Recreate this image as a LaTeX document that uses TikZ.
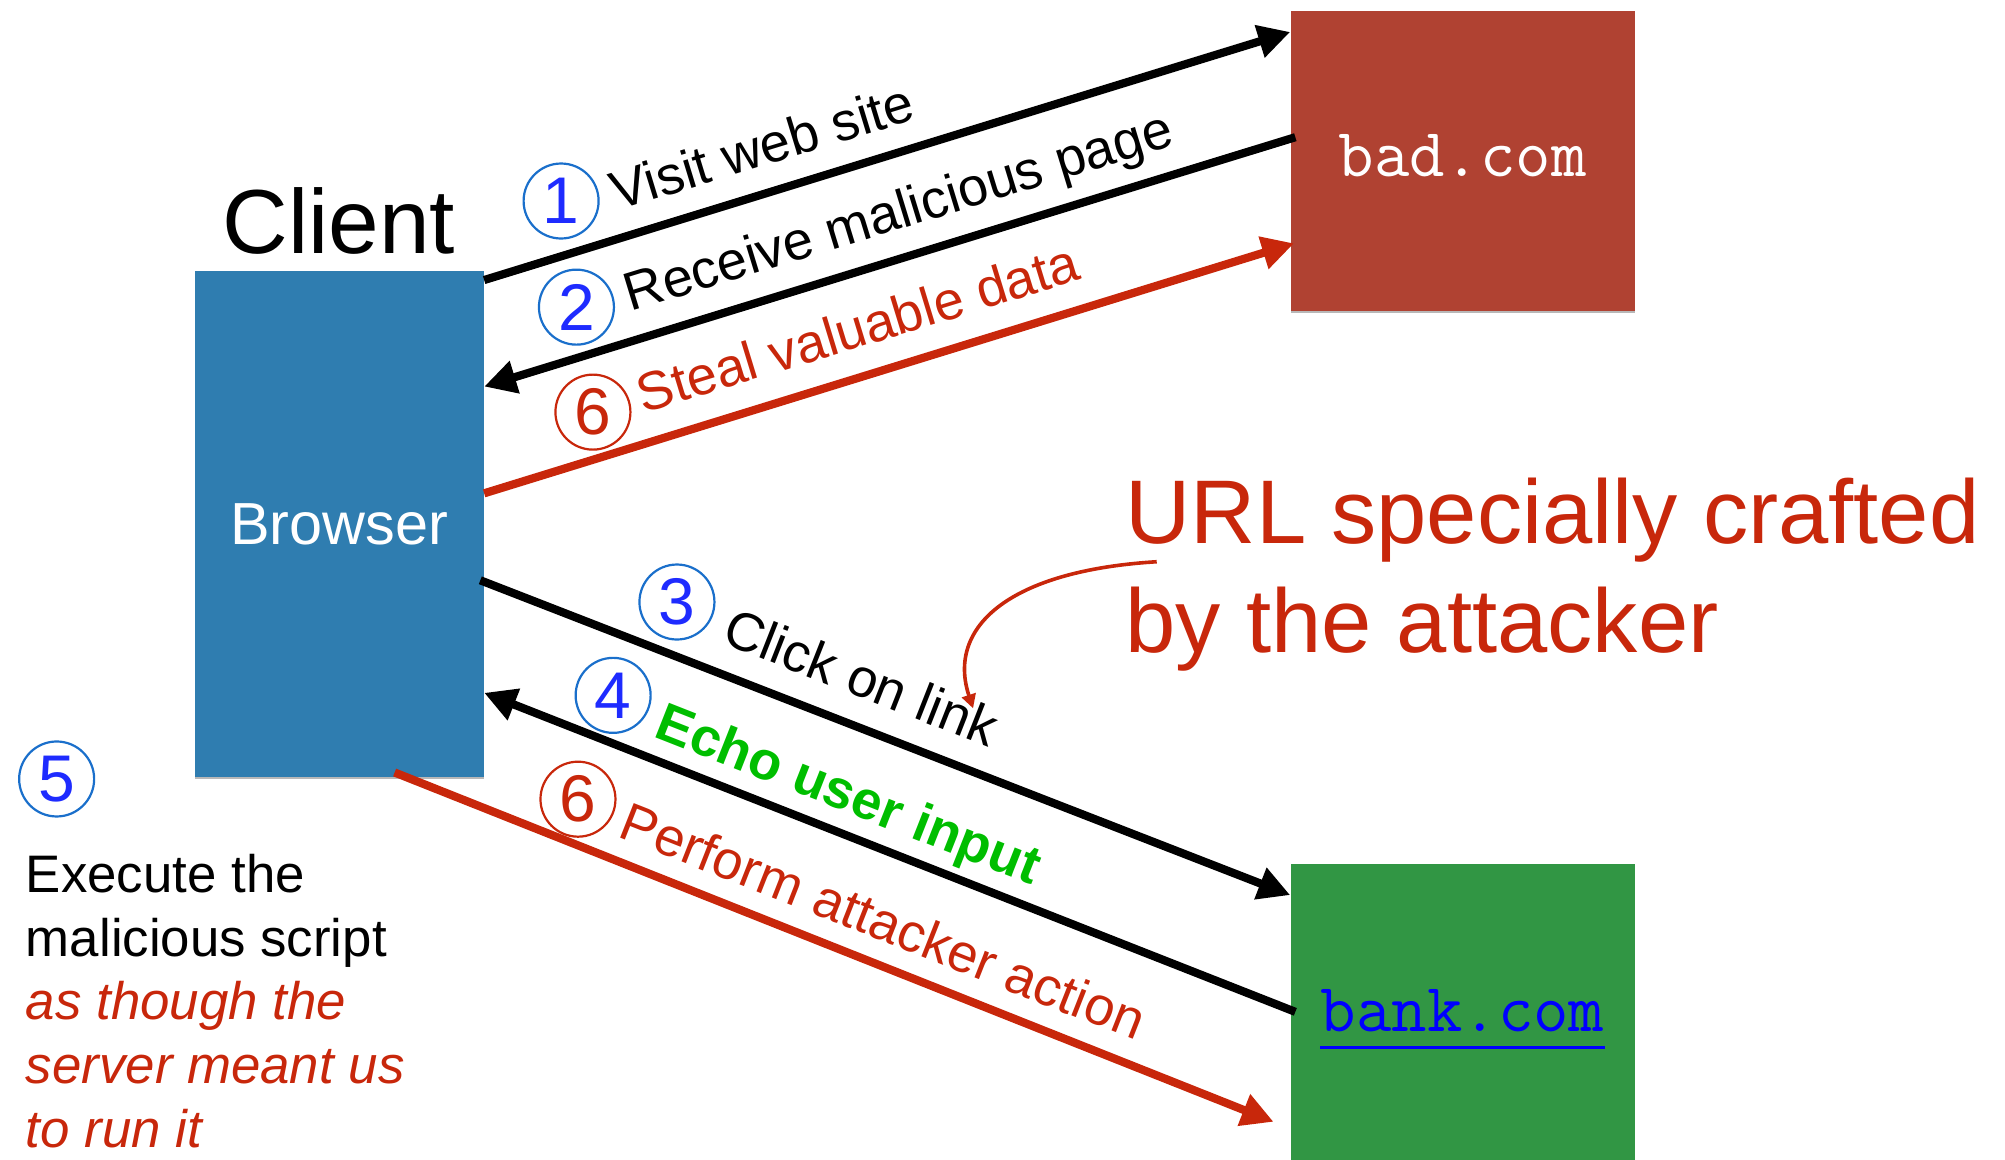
\documentclass[tikz,border=0pt]{standalone}
\usepackage{fontspec}
\setmainfont{Liberation Sans}
\usetikzlibrary{arrows.meta,calc}

\definecolor{browserblue}{HTML}{2F7DB0}
\definecolor{badred}{HTML}{B04232}
\definecolor{bankgreen}{HTML}{319644}
\definecolor{attackred}{HTML}{C8270B}
\definecolor{echogreen}{HTML}{00BE00}
\definecolor{numblue}{HTML}{1E2BFF}
\definecolor{ringblue}{HTML}{1A6FCB}

% one drawing unit
\def\pxu{0.6394pt}

\tikzset{
  box/.style={rectangle, inner sep=0, anchor=north west,
    preaction={fill=black!28, transform canvas={yshift=-1pt}}},
  arr/.style={line width=4.1pt, -{Triangle[length=16pt,width=16pt]}},
  curv/.style={attackred, line width=1.8pt, -{Triangle[length=7pt,width=7pt]}},
  ring/.style={circle, draw=ringblue, line width=1.1pt, minimum size=37.5pt,
    inner sep=0, text=numblue, font=\fontsize{33}{33}\selectfont},
  redring/.style={ring, draw=attackred, text=attackred},
  lbl/.style={anchor=base west, inner sep=0, font=\fontsize{27}{32}\selectfont},
  body/.style={anchor=base west, inner sep=0, font=\fontsize{26.4}{32}\selectfont},
  note/.style={body, text=attackred, font=\fontsize{26.4}{32}\selectfont\itshape},
  url/.style={anchor=base west, inner sep=0, text=attackred,
    font=\fontsize{45.2}{54}\selectfont},
  site/.style={anchor=base, inner sep=0, font=\fontsize{34.4}{38}\ttfamily},
}

\begin{document}
\begin{tikzpicture}[x=0.6394pt, y=-0.6394pt]
\useasboundingbox (0,0) rectangle (1568,907);

% client side
\node[box, fill=browserblue, minimum width=226*\pxu, minimum height=395*\pxu,
  text=white, font=\fontsize{29.7}{34}\selectfont] (browser) at (152,212) {Browser};
\node[anchor=base, inner sep=0, font=\fontsize{45.5}{50}\selectfont] (client) at (265,198) {Client};

% servers
\node[box, fill=badred, minimum width=269*\pxu, minimum height=235*\pxu] (bad) at (1009,8) {};
\node[site, text=white] (badlbl) at ($(bad.north)+(0,130)$) {bad.com};
\node[box, fill=bankgreen, minimum width=269*\pxu, minimum height=232*\pxu] (bank) at (1009,675) {};
\node[site, text=blue] (banklbl) at ($(bank.north)+(0,132)$) {bank.com};
\draw[blue, line width=1.3pt] ($(banklbl.base west)+(0,12)$) -- ($(banklbl.base east)+(0,12)$);

% exchange with bad.com
\draw[arr] ($(browser.north east)+(0,7)$) -- ($(bad.north west)+(0,17)$);
\draw[arr] ($(bad.west)+(4,-18.5)$) -- ($(browser.east)+(0,-107.5)$);
\draw[arr, attackred] ($(browser.east)+(0,-24)$) -- ($(bad.west)+(3,64.5)$);

\node[ring] (n1) at (438.8,157.2) {1};
\node[lbl, rotate=17] (t1) at (482.5,165) {Visit web site};
\node[ring] (n2) at (450.8,240.2) {2};
\node[lbl, rotate=17] (t2) at (493,243.7) {Receive malicious page};
\node[redring] (n6a) at (463.7,322.3) {6};
\node[lbl, rotate=17, text=attackred] (t6a) at (503,323.4) {Steal valuable data};

% exchange with bank.com
\draw[arr] ($(browser.east)+(-3,44)$) -- ($(bank.north west)+(0,25)$);
\draw[arr] ($(bank.west)+(4,0)$) -- ($(browser.east)+(0,132)$);
\draw[arr, attackred] ($(browser.south east)+(-70,-3.5)$) -- ($(bank.west)+(-13,86)$);

\node[ring] (n3) at (529.4,470.8) {3};
\node[lbl, rotate=-21.5] (t3) at (563,502) {Click on link};
\node[ring] (n4) at (479.5,543.8) {4};
\node[lbl, rotate=-21.5, text=echogreen, font=\fontsize{27}{32}\selectfont\bfseries] (t4) at (510,575.5) {Echo user input};
\node[redring] (n6b) at (452,625) {6};
\node[lbl, rotate=-21.5, text=attackred] (t6b) at (482,654) {Perform attacker action};

% step 5 on the client
\node[ring] (n5) at (44.3,609.2) {5};
\node[body] (ex1) at (20,698) {Execute the};
\node[body] (ex2) at (20,748) {malicious script};
\node[note] (ex3) at (20,797.5) {as though the};
\node[note] (ex4) at (20,847) {server meant us};
\node[note] (ex5) at (20,897) {to run it};

% annotation for the crafted link
\node[url] (url1) at (880,425) {URL specially crafted};
\node[url] (url2) at (880,510) {by the attacker};
\coordinate (urltail) at ($(url1.base west)+(24.6,14.3)$);
\coordinate (linkpt) at (761,554);
\draw[curv] (urltail) .. controls +(-115,7) and +(-21,-64) .. (linkpt);
\end{tikzpicture}
\end{document}
